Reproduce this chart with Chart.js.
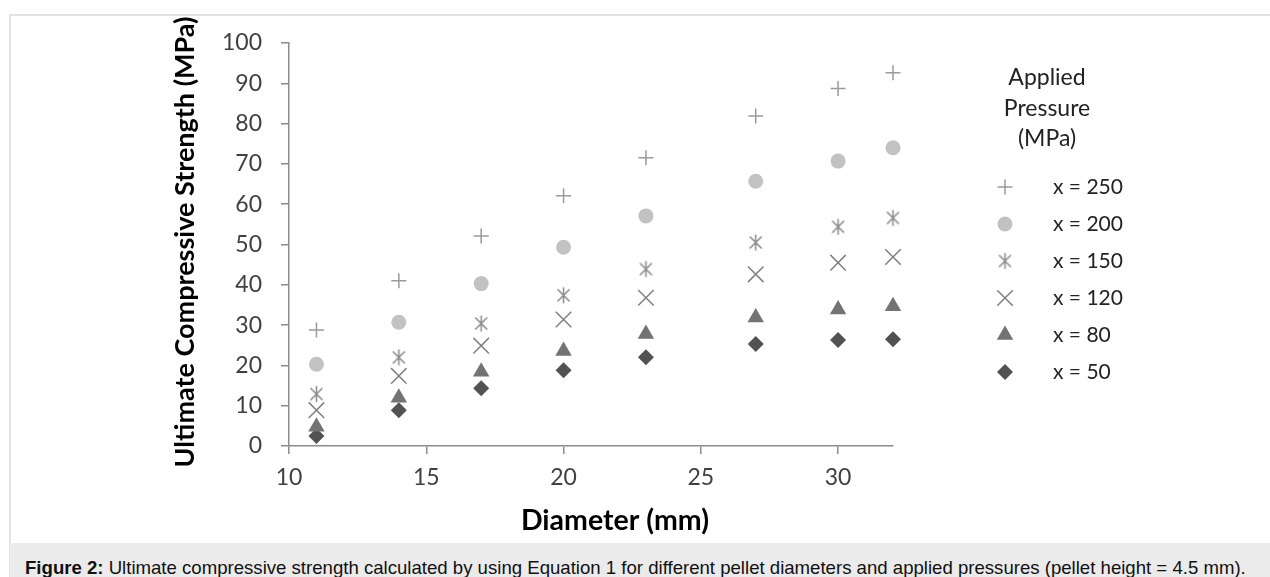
<!DOCTYPE html>
<html>
<head>
<meta charset="utf-8">
<script src="https://cdn.jsdelivr.net/npm/chart.js@4.4.1/dist/chart.umd.min.js"></script>
<style>
  body { margin: 0; background: #fff; width: 1270px; height: 577px; overflow: hidden; position: relative; }
  #frame { position: absolute; left: 9px; top: 14px; width: 1270px; height: 600px;
           border-left: 2px solid #e2e2e2; border-top: 2px solid #e2e2e2; }
  #wrap { position: absolute; left: 0; top: 0; width: 1270px; height: 543px; }
  #caption { position: absolute; left: 10px; top: 543px; width: 1270px; height: 40px; background: #ebebeb;
             font-family: "Liberation Sans", Arial, sans-serif; font-size: 18.6px; color: #111; }
  #caption span.txt { position: absolute; left: 15px; top: 15px; line-height: 20px; white-space: nowrap; }
</style>
</head>
<body>
<div id="frame"></div>
<div id="wrap"><canvas id="strengthChart" width="1270" height="543"></canvas></div>
<div id="caption"><span class="txt"><b>Figure 2:</b> Ultimate compressive strength calculated by using Equation 1 for different pellet diameters and applied pressures (pellet height = 4.5 mm).</span></div>

<script>
// Data
const diameters = [11, 14, 17, 20, 23, 27, 30, 32];
const strength250 = [28.8, 41.0, 52.1, 62.1, 71.5, 81.9, 88.7, 92.6];
const strength200 = [20.3, 30.7, 40.3, 49.3, 57.1, 65.7, 70.7, 74.0];
const strength150 = [12.9, 22.0, 30.4, 37.4, 43.9, 50.5, 54.4, 56.6];
const strength120 = [8.9, 17.4, 24.9, 31.4, 36.8, 42.6, 45.5, 46.9];
const strength80 = [4.8, 12.0, 18.4, 23.6, 27.8, 31.9, 33.9, 34.7];
const strength50 = [2.5, 8.9, 14.3, 18.8, 22.0, 25.3, 26.3, 26.5];
const seriesLabels = ['x = 250', 'x = 200', 'x = 150', 'x = 120', 'x = 80', 'x = 50'];
const legendTitle = ['Applied', 'Pressure', '(MPa)'];
const xTitle = 'Diameter (mm)';
const yTitle = 'Ultimate Compressive Strength (MPa)';

const labelFont = 'Lato, "Open Sans", sans-serif';

// Excel-like asterisk marker (vertical bar + X)
function makeAsterisk(size, color) {
    const c = document.createElement('canvas');
    c.width = size; c.height = size;
    const g = c.getContext('2d');
    const m = size / 2, r = size / 2 - 1.5;
    const d = r * 0.75;
    g.strokeStyle = color;
    g.lineWidth = 1.5;
    g.beginPath();
    g.moveTo(m, m - r); g.lineTo(m, m + r);
    g.moveTo(m - d, m - d); g.lineTo(m + d, m + d);
    g.moveTo(m - d, m + d); g.lineTo(m + d, m - d);
    g.stroke();
    return c;
}
const asterisk = makeAsterisk(19, '#8a8a8a');

function toPoints(values) {
    return values.map((v, i) => ({ x: diameters[i], y: v }));
}

const seriesValues = [strength250, strength200, strength150, strength120, strength80, strength50];
const seriesStyles = [
    { pointStyle: 'cross', radius: 7.5, border: '#9a9a9a', fill: '#9a9a9a', width: 1.5 },
    { pointStyle: 'circle', radius: 7.5, border: '#c2c2c2', fill: '#c2c2c2', width: 0 },
    { pointStyle: asterisk, radius: 8, border: '#8a8a8a', fill: '#8a8a8a', width: 1.5 },
    { pointStyle: 'crossRot', radius: 11, border: '#808080', fill: '#808080', width: 1.5 },
    { pointStyle: 'triangle', radius: 9.5, border: '#737373', fill: '#737373', width: 0 },
    { pointStyle: 'rectRot', radius: 8, border: '#525252', fill: '#525252', width: 0 }
];

const datasets = seriesValues.map((vals, i) => ({
    label: seriesLabels[i],
    data: toPoints(vals),
    pointStyle: seriesStyles[i].pointStyle,
    pointRadius: seriesStyles[i].radius,
    pointHoverRadius: seriesStyles[i].radius,
    pointBorderColor: seriesStyles[i].border,
    pointBackgroundColor: seriesStyles[i].fill,
    pointBorderWidth: seriesStyles[i].width,
    showLine: false,
    clip: false
}));

// Axis titles and the legend block on the right
const extrasPlugin = {
    id: 'extras',
    afterDraw(chart) {
        const ctx = chart.ctx;
        ctx.save();
        ctx.fillStyle = '#000';
        ctx.font = 'bold 28.5px ' + labelFont;
        ctx.textAlign = 'center';
        ctx.textBaseline = 'middle';
        ctx.fillText(xTitle, 615, 521);
        ctx.font = 'bold 27px ' + labelFont;
        ctx.translate(185, 242);
        ctx.rotate(-Math.PI / 2);
        ctx.fillText(yTitle, 0, 0);
        ctx.restore();

        // legend
        ctx.save();
        ctx.fillStyle = '#222';
        ctx.textBaseline = 'middle';
        ctx.textAlign = 'center';
        ctx.font = '23px ' + labelFont;
        legendTitle.forEach((t, i) => ctx.fillText(t, 1047, 78 + i * 30.5));
        ctx.textAlign = 'left';
        ctx.font = '21px ' + labelFont;
        chart.data.datasets.forEach((ds, i) => {
            const y = 187 + i * 37;
            ctx.strokeStyle = ds.pointBorderColor;
            ctx.fillStyle = ds.pointBackgroundColor;
            ctx.lineWidth = ds.pointBorderWidth;
            Chart.helpers.drawPoint(ctx, { pointStyle: ds.pointStyle, radius: ds.pointRadius, borderWidth: ds.pointBorderWidth, rotation: 0 }, 1005, y);
            ctx.fillStyle = '#222';
            ctx.fillText(ds.label, 1053, y);
        });
        ctx.restore();
    }
};

const ctx = document.getElementById('strengthChart').getContext('2d');
const strengthChart = new Chart(ctx, {
    type: 'scatter',
    data: { datasets: datasets },
    options: {
        responsive: false,
        animation: false,
        devicePixelRatio: 1,
        layout: { padding: { left: 0, top: 43, right: 377, bottom: 0 } },
        plugins: {
            legend: { display: false },
            tooltip: { enabled: false }
        },
        elements: { point: { hitRadius: 0 } },
        scales: {
            x: {
                type: 'linear',
                min: 10,
                max: 32,
                afterFit: s => { s.height = 97; },
                grid: { drawOnChartArea: false, drawTicks: true, tickLength: 8, color: '#8c8c8c', lineWidth: 1.5 },
                border: { display: true, color: '#8c8c8c', width: 1.5 },
                ticks: {
                    stepSize: 5,
                    includeBounds: false,
                    padding: 10,
                    color: '#404040',
                    font: { family: labelFont, size: 23 }
                }
            },
            y: {
                type: 'linear',
                min: 0,
                max: 100,
                afterFit: s => { s.width = 289; },
                grid: { drawOnChartArea: false, drawTicks: true, tickLength: 8, color: '#8c8c8c', lineWidth: 1.5 },
                border: { display: true, color: '#8c8c8c', width: 1.5 },
                ticks: {
                    stepSize: 10,
                    padding: 19,
                    color: '#404040',
                    font: { family: labelFont, size: 23 }
                }
            }
        }
    },
    plugins: [extrasPlugin]
});
</script>
</body>
</html>
